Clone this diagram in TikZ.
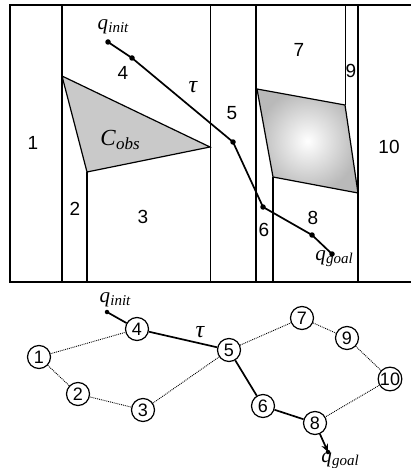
\documentclass[tikz,border=0pt]{standalone}
\usepackage{fontspec}
\setmainfont{Liberation Sans}
\newfontfamily\tmsf{Liberation Serif}
\usetikzlibrary{arrows.meta}
\newcommand\qsub[2]{{\tmsf\itshape #1\kern0.3pt\raisebox{-0.3ex}{\fontsize{15}{15}\selectfont #2}}}
\tikzset{
  num/.style={font=\fontsize{19}{19}\selectfont, inner sep=0pt},
  lbl/.style={font=\fontsize{21}{21}\selectfont, inner sep=0pt},
  gnode/.style={circle, draw, line width=1.2pt, minimum size=23pt, inner sep=0pt, font=\fontsize{18}{18}\selectfont},
  trail/.style={line width=1.7pt},
  dotedge/.style={densely dotted, line width=0.9pt},
  pt/.style={circle, fill, inner sep=0pt, minimum size=5.5pt},
  thickline/.style={line width=1.7pt},
  thinline/.style={line width=0.8pt},
}
\begin{document}
\begin{tikzpicture}[x=1pt,y=-1pt]
\useasboundingbox (0,0) rectangle (411,468);
% obstacles
\fill[gray!42] (62,76) -- (210,147) -- (87,172) -- cycle;
\draw[line width=1.2pt] (62,76) -- (210,147) -- (87,172) -- cycle;
\shade[inner color=white, outer color=gray!55] (257,89) -- (345,105) -- (358,193) -- (273,177) -- cycle;
\draw[line width=1.2pt] (257,89) -- (345,105) -- (358,193) -- (273,177) -- cycle;
% frame
\draw[line width=1.2pt] (411,5) -- (10,5) -- (10,282) -- (411,282);
\draw[thickline] (62,5) -- (62,282);
\draw[thickline] (87,172) -- (87,282);
\draw[thinline] (210,5) -- (210,282);
\draw[thickline] (256,5) -- (256,282);
\draw[line width=1.1pt] (273,177) -- (273,282);
\draw[thinline] (345,5) -- (345,105);
\draw[thickline] (358,5) -- (358,282);
% trajectory
\node[pt] (ti) at (108,42) {};
\node[pt] (t4) at (132,58) {};
\node[pt] (t5) at (233,142) {};
\node[pt] (t6) at (263,207) {};
\node[pt] (t8) at (312,235) {};
\node[pt] (tg) at (332,254) {};
\draw[trail] (ti.center) -- (t4.center) -- (t5.center) -- (t6.center) -- (t8.center) -- (tg.center);
% labels top
\node[lbl] (lqi) at (113,27) {\qsub{q}{init}};
\node[num] (l4) at (123,73) {4};
\node[lbl, font=\fontsize{24}{24}\selectfont] (ltau) at (193,87) {{\tmsf\itshape τ}};
\node[num] (l5) at (232,113) {5};
\node[lbl] (lc) at (120,140) {{\tmsf\itshape\fontsize{23}{23}\selectfont C\kern0.5pt\raisebox{-0.3ex}{\fontsize{17}{17}\selectfont obs}}};
\node[num] (l1) at (33,143) {1};
\node[num] (l2) at (75,209) {2};
\node[num] (l3) at (143,217) {3};
\node[num] (l6) at (264,230) {6};
\node[num] (l7) at (299,50) {7};
\node[num] (l8) at (313,218) {8};
\node[num] (l9) at (351,71) {9};
\node[num] (l10) at (389,147) {10};
\node[lbl] (lqg) at (334,259) {\qsub{q}{goal}};
% graph
\node[gnode] (n1) at (39,357) {1};
\node[gnode] (n2) at (78,394) {2};
\node[gnode] (n3) at (143,410) {3};
\node[gnode] (n4) at (137,329) {4};
\node[gnode] (n5) at (229,350) {5};
\node[gnode] (n6) at (263,406) {6};
\node[gnode] (n7) at (302,318) {7};
\node[gnode] (n8) at (315,423) {8};
\node[gnode] (n9) at (347,338) {9};
\node[gnode] (n10) at (390,379) {10};
\node[pt, minimum size=4.5pt] (gi) at (107,312) {};
\node[pt, minimum size=4.5pt] (gg) at (328,452) {};
\node[lbl] (gqi) at (115,300) {\qsub{q}{init}};
\node[lbl] (gqg) at (340,461) {\qsub{q}{goal}};
\node[lbl, font=\fontsize{24}{24}\selectfont] (gtau) at (200,332) {{\tmsf\itshape τ}};
\draw[dotedge] (n1) -- (n4);
\draw[dotedge] (n1) -- (n2);
\draw[dotedge] (n2) -- (n3);
\draw[dotedge] (n3) -- (n5);
\draw[dotedge] (n5) -- (n7);
\draw[dotedge] (n7) -- (n9);
\draw[dotedge] (n9) -- (n10);
\draw[dotedge] (n10) -- (n8);
\draw[trail] (gi.center) -- (n4);
\draw[trail] (n4) -- (n5);
\draw[trail] (n5) -- (n6);
\draw[trail] (n6) -- (n8);
\draw[trail,-{Stealth[length=8pt,width=7pt]}] (n8) -- (gg.center);
\end{tikzpicture}
\end{document}
